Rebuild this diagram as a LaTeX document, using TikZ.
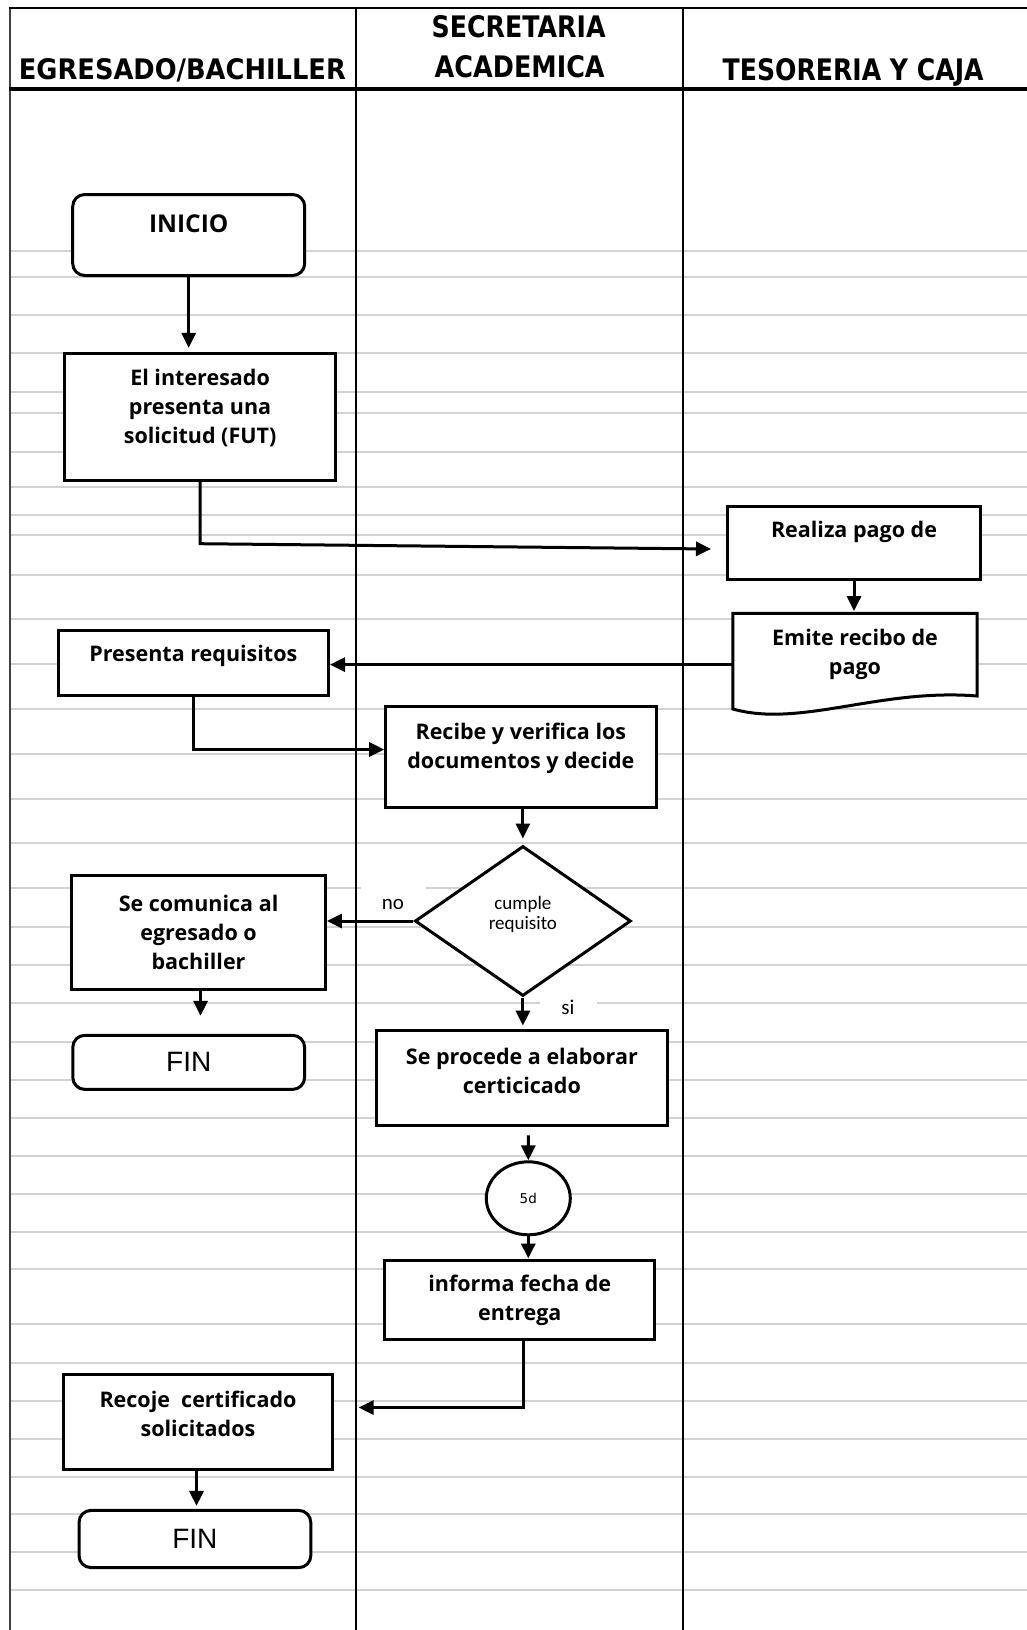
\documentclass[tikz,border=0pt]{standalone}
\usepackage{fontspec}
\usepackage{graphicx}
\setmainfont{Open Sans}
\newfontfamily\hdrfont{DejaVu Sans}
\newfontfamily\lblfont{Carlito}
\newfontfamily\finfont{Liberation Sans}
\newfontfamily\circfont{DejaVu Sans}
\usetikzlibrary{arrows.meta,shapes.geometric}
\newcommand\sinkd[1]{\rule[-#1]{0pt}{#1}}
\begin{document}
\begin{tikzpicture}[x=1pt,y=-1pt,
  gridline/.style={draw=gray!35, line width=2.2pt},
  lane/.style={line width=2pt},
  procbox/.style={draw, line width=3pt, fill=white, align=center, inner sep=0pt, font=\bfseries\fontsize{21.5}{29}\selectfont},
  termbox/.style={procbox, rounded corners=12pt},
  arr/.style={line width=3pt, -{Triangle[length=15pt,width=14pt]}},
  lbl/.style={fill=white, inner sep=0pt, font=\lblfont\fontsize{21}{22}\selectfont},
  hdr/.style={anchor=base west, inner sep=0pt, font=\hdrfont\bfseries\fontsize{26}{26}\selectfont}
]
\fill[white] (0,0) rectangle (1027,1630);
\useasboundingbox (0,0) rectangle (1027,1630);

% ruled background lines
\foreach \yy in {250.7,276.7,315,353.3,391.7,413.3,452.3,487.3,514.7,535.3,574.7,619,664,708.7,753.7,798.7,843,887.7,926.7,965,1002.7,1041.7,1080,1118.3,1156,1194.3,1232,1269.3,1324.3,1363,1400.7,1439,1476.7,1514.3,1552.3,1590}
  \draw[gridline] (10,\yy) -- (1027,\yy);

% swimlanes
\draw[line width=2pt, draw=black!75] (10,7) -- (10,1630);
\draw[lane] (355.5,7) -- (355.5,1630);
\draw[lane] (683,7) -- (683,1630);
\draw[line width=2pt] (9,8) -- (1027,8);
\draw[line width=3.5pt] (9,89) -- (1027,89);

% headers
\node[hdr] (hA) at (18.7,79) {\resizebox{327pt}{21pt}{EGRESADO/BACHILLER}};
\node[hdr] (hB1) at (431.4,37.4) {\resizebox{174pt}{22pt}{SECRETARIA}};
\node[hdr] (hB2) at (434.5,77) {\resizebox{170pt}{22pt}{ACADEMICA}};
\node[hdr] (hC) at (722.5,80) {\resizebox{261pt}{22pt}{TESORERIA Y CAJA}};

% branch labels
\node[lbl, minimum width=65pt, minimum height=38pt] (nolbl) at (393,904) {no};
\node[lbl, minimum width=57pt, minimum height=30pt] (silbl) at (568,1007) {si};

% nodes
\node[termbox, minimum width=232pt, minimum height=81pt, font=\bfseries\fontsize{24.5}{29}\selectfont] (inicio) at (188.7,235) {INICIO\sinkd{23pt}};
\node[procbox, minimum width=271.4pt, minimum height=126.8pt] (fut) at (200.1,416.8) {El interesado\\presenta una\\solicitud (FUT)\sinkd{21pt}};
\node[procbox, minimum width=252.5pt, minimum height=72.8pt] (realiza) at (854,542.6) {Realiza pago de\sinkd{26pt}};

\draw[line width=3pt, fill=white] (732.9,613.3) -- (977.1,613.3) -- (977.1,696) .. controls (880,688) and (800,728) .. (732.9,709) -- cycle;
\node[inner sep=0pt, align=center, font=\bfseries\fontsize{21.5}{29}\selectfont, minimum width=244pt, minimum height=82.7pt] (emite) at (855,654.65) {Emite recibo de\\pago};

\node[procbox, minimum width=270.3pt, minimum height=65.4pt] (presenta) at (193.35,662.7) {Presenta requisitos\sinkd{18.5pt}};
\node[procbox, minimum width=270.3pt, minimum height=100.8pt] (recibe) at (520.85,757.3) {Recibe y verifica los\\documentos y decide\sinkd{23pt}};
\node[draw, diamond, line width=3pt, fill=white, minimum width=216pt, minimum height=150pt, inner sep=0pt, align=center, font=\lblfont\fontsize{19}{20}\selectfont] (dia) at (522.9,921) {cumple\\requisito\sinkd{17pt}};
\node[procbox, minimum width=253.7pt, minimum height=114.3pt] (comunica) at (198.55,932.45) {Se comunica al\\egresado o\\bachiller};
\node[termbox, minimum width=231.8pt, minimum height=54.1pt, font=\finfont\fontsize{28}{29}\selectfont] (fin1) at (188.7,1062.35) {FIN};
\node[procbox, minimum width=291.1pt, minimum height=95.7pt] (procede) at (521.85,1077.95) {Se procede a elaborar\\certicicado\sinkd{14pt}};
\node[draw, ellipse, line width=3pt, fill=white, minimum width=84pt, minimum height=73pt, inner sep=0pt, font=\circfont\fontsize{13.5}{15}\selectfont] (circ) at (528.3,1198.3) {5d};
\node[procbox, minimum width=270.3pt, minimum height=79.9pt] (informa) at (519.75,1299.95) {informa fecha de\\entrega};
\node[procbox, minimum width=269.2pt, minimum height=95.7pt] (recoje) at (198,1422.05) {Recoje\ \ certificado\\solicitados\sinkd{16pt}};
\node[termbox, minimum width=231.8pt, minimum height=57.2pt, font=\finfont\fontsize{28}{29}\selectfont] (fin2) at (194.9,1539) {FIN};

% connectors
\coordinate (c1) at (200.1,543.7);
\coordinate (c2) at (711,549);
\coordinate (c3) at (193.35,749.5);
\coordinate (c4) at (523.9,1407.5);
\coordinate (c5) at (358.6,1407.5);

\draw[arr, shorten >=4pt] (inicio.south) -- (inicio.south |- fut.north);
\draw[arr] (fut.south) -- (c1) -- (c2);
\draw[arr, shorten >=2pt] (realiza.south) -- (realiza.south |- emite.north);
\draw[arr] ([yshift=-10pt]emite.west) -- ([yshift=-10pt]emite.west -| presenta.east);
\draw[arr] (presenta.south) -- (c3) -- (c3 -| recibe.west);
\draw[arr, shorten >=6pt] ([xshift=2pt]recibe.south) -- ([xshift=2pt]recibe.south |- dia.north);
\draw[arr] (dia.west) -- (dia.west -| comunica.east);
\draw[arr, shorten >=18pt] ([xshift=2pt]comunica.south) -- ([xshift=2pt]comunica.south |- fin1.north);
\draw[arr, shorten >=3pt] (dia.south) -- (dia.south |- procede.north);
\draw[arr, shorten <=8pt] ([xshift=6.5pt]procede.south) -- (circ.north);
\draw[arr] (circ.south) -- (circ.south |- informa.north);
\draw[arr] ([xshift=4.15pt]informa.south) -- (c4) -- (c5);
\draw[arr, shorten >=3pt] ([xshift=-1.5pt]recoje.south) -- ([xshift=-1.5pt]recoje.south |- fin2.north);
\end{tikzpicture}
\end{document}
